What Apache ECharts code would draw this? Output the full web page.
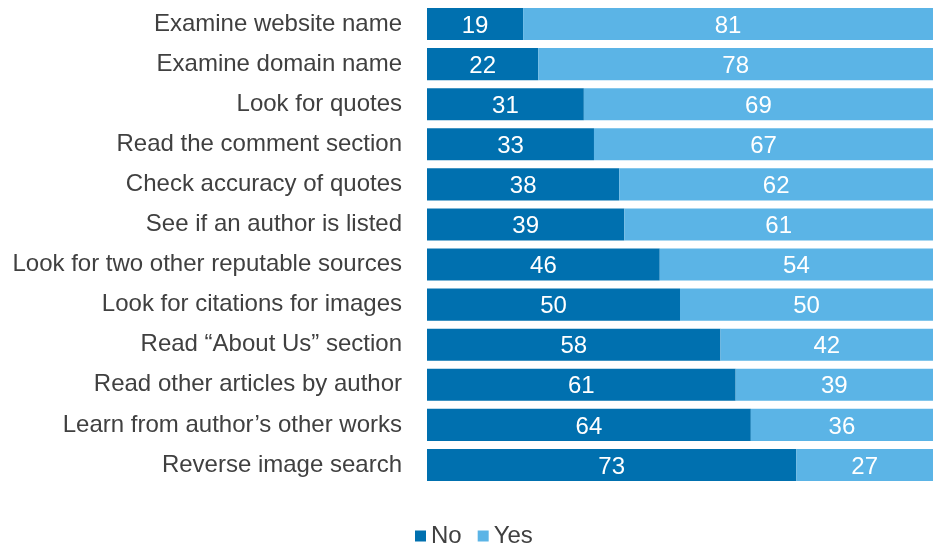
<!DOCTYPE html>
<html>
<head>
<meta charset="utf-8">
<script src="https://cdn.jsdelivr.net/npm/echarts@6/dist/echarts.min.js"></script>
<style>
  html, body { margin: 0; padding: 0; background: #fff; }
  #chart { width: 940px; height: 547px; }
</style>
</head>
<body>
<div id="chart"></div>
<script>
// Verification practices, top to bottom
const categories = [
  'Examine website name',
  'Examine domain name',
  'Look for quotes',
  'Read the comment section',
  'Check accuracy of quotes',
  'See if an author is listed',
  'Look for two other reputable sources',
  'Look for citations for images',
  'Read \u201cAbout Us\u201d section',
  'Read other articles by author',
  'Learn from author\u2019s other works',
  'Reverse image search'
];
const noValues  = [19, 22, 31, 33, 38, 39, 46, 50, 58, 61, 64, 73];
const yesValues = [81, 78, 69, 67, 62, 61, 54, 50, 42, 39, 36, 27];

const FONT = '"Liberation Sans", Arial, sans-serif';

const chart = echarts.init(document.getElementById('chart'), null, { renderer: 'canvas' });

const valueLabel = {
  show: true,
  position: 'inside',
  offset: [0, 2],
  color: '#ffffff',
  fontFamily: FONT,
  fontSize: 24
};

chart.setOption({
  animation: false,
  grid: { left: 427, right: 7, top: 4, bottom: 62, containLabel: false },
  legend: {
    data: ['No', 'Yes'],
    left: 410,
    top: 519,
    icon: 'rect',
    itemWidth: 11,
    itemHeight: 11,
    itemGap: 16,
    textStyle: { fontFamily: FONT, fontSize: 24, color: '#404040', padding: [3, 0, 0, 0] }
  },
  xAxis: {
    type: 'value',
    min: 0,
    max: 100,
    show: false
  },
  yAxis: {
    type: 'category',
    data: categories,
    inverse: true,
    axisLine: { show: false },
    axisTick: { show: false },
    splitLine: { show: false },
    axisLabel: {
      margin: 25,
      fontFamily: FONT,
      fontSize: 24,
      color: '#404040',
      padding: [3, 0, 0, 0]
    }
  },
  series: [
    {
      name: 'No',
      type: 'bar',
      stack: 'total',
      data: noValues,
      barCategoryGap: '20%',
      itemStyle: { color: '#0070AF' },
      label: valueLabel
    },
    {
      name: 'Yes',
      type: 'bar',
      stack: 'total',
      data: yesValues,
      barCategoryGap: '20%',
      itemStyle: { color: '#5BB4E6' },
      label: valueLabel
    }
  ]
});
</script>
</body>
</html>
